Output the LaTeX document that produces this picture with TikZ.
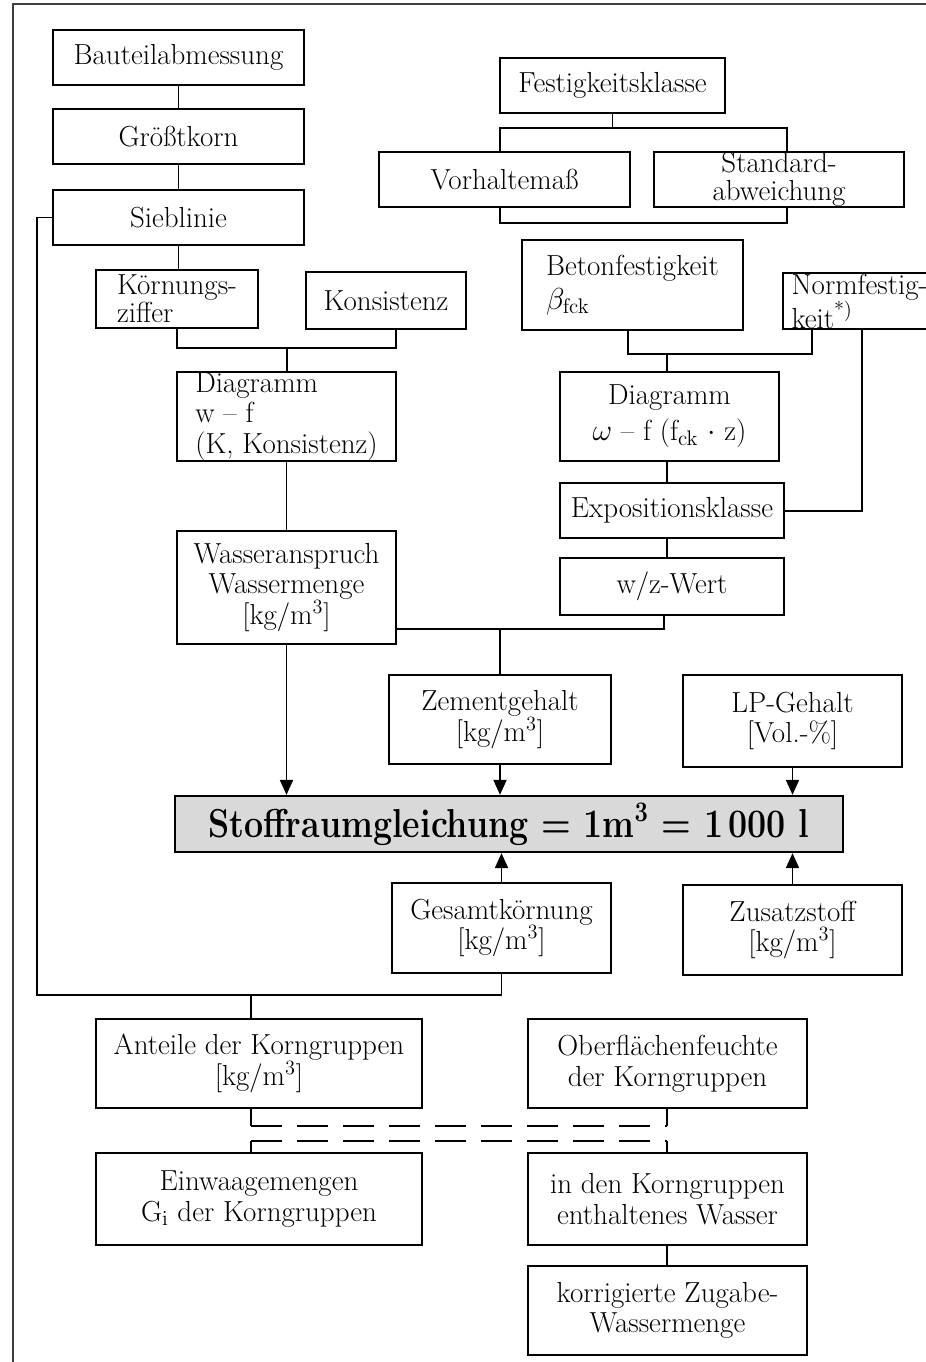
\documentclass[tikz,border=0pt]{standalone}
\usetikzlibrary{arrows.meta,calc}
\begin{document}
\begin{tikzpicture}[x=0.02cm,y=-0.02cm,
  box/.style={draw, line width=1.3pt, inner sep=0pt, align=center, font=\fontsize{16.5}{17.5}\selectfont},
  place/.style n args={4}{minimum width={(#3-#1)*0.02cm}, minimum height={(#4-#2)*0.02cm}, at={({(#1+#3)/2},{(#2+#4)/2})}},
  conn/.style={line width=1.1pt},
  arr/.style={line width=1.1pt, -{Triangle[length=0.3cm,width=0.26cm]}},
  dashline/.style={line width=1.1pt, dash pattern=on 0.62cm off 0.3cm},
  frame/.style={line width=0.8pt, black!75}]
\useasboundingbox (0,0) rectangle (926,1362);
\clip (0,0) rectangle (926,1362);
\draw[frame] (13,1362) -- (13,4) -- (926,4);

% boxes
\node[box, place={53}{30}{304}{85}] (bau) {Bauteilabmessung};
\node[box, place={53}{109}{304}{164}] (gro) {Größtkorn};
\node[box, place={53}{190}{304}{245}] (sieb) {Sieblinie};
\node[box, place={500}{58}{725}{113}] (fest) {Festigkeitsklasse};
\node[box, place={379}{152}{630}{207}] (vor) {Vorhaltemaß};
\node[box, place={654}{152}{904}{207}, font=\fontsize{16.5}{16}\selectfont] (std) {Standard-\\abweichung};
\node[box, place={96}{270}{258}{328}, align=left, font=\fontsize{16.5}{16}\selectfont] (koern) {Körnungs-\\ziffer};
\node[box, place={306}{272}{466}{329}] (kons) {Konsistenz};
\node[box, place={522}{240}{743}{330}, align=left] (beton) {Betonfestigkeit\\[2pt]$\beta_{\mathrm{fck}}$};
\node[box, place={783}{273}{936}{329}, align=left, font=\fontsize{16.5}{16.5}\selectfont] (norm) {Normfestig-\\keit\textsuperscript{*)}};
\node[box, place={177}{372}{396}{461}, align=left] (diaw) {Diagramm\\w -- f\\(K, Konsistenz)};
\node[box, place={560}{372}{779}{461}] (diao) {Diagramm\\[3pt]$\omega$ -- f (f$_{\mathrm{ck}}$ $\cdot$ z)};
\node[box, place={560}{483}{784}{538}] (expo) {Expositionsklasse};
\node[box, place={560}{558}{784}{615}] (wz) {w/z-Wert};
\node[box, place={177}{531}{396}{644}] (wass) {Wasseranspruch\\Wassermenge\\{}[kg/m\textsuperscript{3}]};
\node[box, place={389}{675}{611}{764}] (zem) {Zementgehalt\\{}[kg/m\textsuperscript{3}]};
\node[box, place={683}{675}{902}{767}] (lp) {LP-Gehalt\\{}[Vol.-\%]};
\node[box, place={175}{796}{843}{852}, fill=black!15, font=\fontsize{23}{24}\selectfont\bfseries] (stoff) {\scalebox{0.84}[1]{Stoffraumgleichung = 1m\textsuperscript{3} = 1\,000 l}};
\node[box, place={392}{883}{611}{973}] (ges) {Gesamtkörnung\\{}[kg/m\textsuperscript{3}]};
\node[box, place={683}{885}{902}{975}] (zus) {Zusatzstoff\\{}[kg/m\textsuperscript{3}]};
\node[box, place={96}{1019}{422}{1108}] (ant) {Anteile der Korngruppen\\{}[kg/m\textsuperscript{3}]};
\node[box, place={528}{1019}{807}{1108}] (ober) {Oberflächenfeuchte\\der Korngruppen};
\node[box, place={96}{1153}{422}{1245}] (einw) {Einwaagemengen\\G$_{\mathrm{i}}$ der Korngruppen};
\node[box, place={528}{1153}{807}{1245}] (inden) {in den Korngruppen\\enthaltenes Wasser};
\node[box, place={528}{1266}{807}{1355}] (korr) {korrigierte Zugabe-\\Wassermenge};

% junction coordinates
\coordinate (kL) at (177,348);
\coordinate (kR) at (396,348);
\coordinate (kM) at (287,348);
\coordinate (fL) at (500,128);
\coordinate (fR) at (787,128);
\coordinate (vL) at (500,223);
\coordinate (vR) at (787,223);
\coordinate (bL) at (628,354);
\coordinate (bR) at (812,354);
\coordinate (bM) at (667,354);
\coordinate (nB) at (862,511);
\coordinate (wB) at (664,629);
\coordinate (sB) at (37,995);
\coordinate (aT) at (251,995);
\coordinate (d1L) at (251,1126);
\coordinate (d1R) at (667,1126);
\coordinate (d2L) at (251,1141);
\coordinate (d2R) at (667,1141);

% connectors
\draw[conn] (bau.south) -- (gro.north);
\draw[conn] (gro.south) -- (sieb.north);
\draw[conn] (sieb.south) -- (sieb.south |- koern.north);
\draw[conn] (kL |- koern.south) -- (kL) -- (kR) -- (kR |- kons.south);
\draw[conn] (kM) -- (kM |- diaw.north);
\draw[conn] (diaw.south) -- (wass.north);
\draw[arr] (wass.south) -- (wass.south |- stoff.north);

\draw[conn] (fest.south) -- (fest.south |- fL);
\draw[conn] (fL |- vor.north) -- (fL) -- (fR) -- (fR |- std.north);
\draw[conn] (vL |- vor.south) -- (vL) -- (vR) -- (vR |- std.south);

\draw[conn] (bL |- beton.south) -- (bL) -- (bR) -- (bR |- norm.south);
\draw[conn] (bM) -- (bM |- diao.north);
\draw[conn] (bM |- diao.south) -- (bM |- expo.north);
\draw[conn] (bM |- expo.south) -- (bM |- wz.north);
\draw[conn] (nB |- norm.south) -- (nB) -- (expo.east |- nB);

\draw[conn] (wB |- wz.south) -- (wB) -- (wass.east |- wB);
\draw[conn] (zem.north |- wB) -- (zem.north);
\draw[arr] (zem.south) -- (zem.south |- stoff.north);
\draw[arr] (lp.south) -- (lp.south |- stoff.north);
\draw[arr] (ges.north) -- (ges.north |- stoff.south);
\draw[arr] (zus.north) -- (zus.north |- stoff.south);

\draw[conn] (sieb.west) -| (sB) -- (ges.south |- sB) -- (ges.south);
\draw[conn] (aT) -- (aT |- ant.north);

\draw[conn] (d1L |- ant.south) -- (d1L);
\draw[conn] (d1R |- ober.south) -- (d1R);
\draw[dashline] (d1L) -- (d1R);
\draw[dashline] (d2L) -- (d2R);
\draw[conn] (d2L) -- (d2L |- einw.north);
\draw[conn] (d2R) -- (d2R |- inden.north);
\draw[conn] (d2R |- inden.south) -- (d2R |- korr.north);
\end{tikzpicture}
\end{document}
